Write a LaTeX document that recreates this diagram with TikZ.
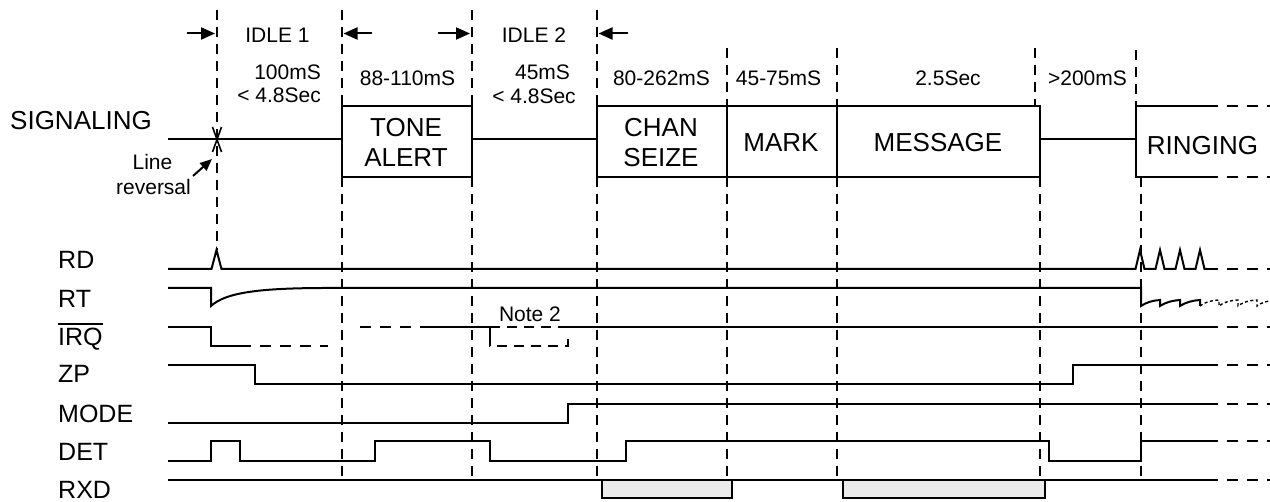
\documentclass[tikz,border=0pt]{standalone}
\usepackage{fontspec}
\setmainfont{Liberation Sans}
\usetikzlibrary{arrows.meta}
\definecolor{boxgray}{HTML}{EBEBEB}
\begin{document}
\begin{tikzpicture}[x=1pt,y=-1pt,
  wave/.style={line width=2pt, line join=miter},
  vgrid/.style={line width=2pt, dash pattern=on 10pt off 7pt},
  tailline/.style={line width=2pt, dash pattern=on 11pt off 9pt},
  bigtxt/.style={font=\fontsize{26}{29}\selectfont, inner sep=0pt, anchor=base},
  lbl/.style={font=\fontsize{25}{28}\selectfont, inner sep=0pt, anchor=base west},
  smalltxt/.style={font=\fontsize{21}{24}\selectfont, inner sep=0pt, anchor=base},
  harrow/.style={line width=2pt, -{Triangle[length=14pt,width=12pt]}},
  sbox/.style={line width=2pt, draw}
]
\useasboundingbox (0,0) rectangle (1270,502);

% ---- vertical dashed time markers ----
\draw[vgrid] (217,10) -- (217,250);
\draw[vgrid] (341.5,10) -- (341.5,106);  \draw[vgrid] (341.5,177) -- (341.5,478);
\draw[vgrid] (471.5,10) -- (471.5,106);  \draw[vgrid] (471.5,177) -- (471.5,478);
\draw[vgrid] (596.5,10) -- (596.5,106);  \draw[vgrid] (596.5,177) -- (596.5,478);
\draw[vgrid] (726.5,48) -- (726.5,106);  \draw[vgrid] (726.5,177) -- (726.5,478);
\draw[vgrid] (837,48) -- (837,106);      \draw[vgrid] (837,177) -- (837,478);
\draw[vgrid] (1035,48) -- (1035,106);    \draw[vgrid] (1040,177) -- (1040,478);
\draw[vgrid] (1136,50) -- (1136,106);    \draw[vgrid] (1141,177) -- (1141,478);

% ---- top interval arrows and labels ----
\draw[harrow] (187,33.5) -- (215,33.5);
\draw[harrow] (372,33.5) -- (343.5,33.5);
\draw[harrow] (438,33.5) -- (470,33.5);
\draw[harrow] (628,33.5) -- (598.5,33.5);
\node[smalltxt] (idle1) at (277.5,43) {IDLE 1};
\node[smalltxt] (idle2) at (534,43) {IDLE 2};

\node[smalltxt, anchor=base east] (t1a) at (321,80) {100mS};
\node[smalltxt, anchor=base east] (t1b) at (321,103) {< 4.8Sec};
\node[smalltxt] (t2) at (407.5,86) {88-110mS};
\node[smalltxt] (t3a) at (542.5,80) {45mS};
\node[smalltxt] (t3b) at (534,104) {< 4.8Sec};
\node[smalltxt] (t4) at (661.5,86) {80-262mS};
\node[smalltxt] (t5) at (778.5,86) {45-75mS};
\node[smalltxt] (t6) at (948,86) {2.5Sec};
\node[smalltxt] (t7) at (1087.5,86) {>200mS};

% ---- SIGNALING row ----
\node[bigtxt, anchor=base west] (sig) at (10,130) {SIGNALING};
\draw[wave] (168,139) -- (341.5,139);
\draw[sbox] (341.5,106) rectangle (471.5,177);
\draw[wave] (471.5,139) -- (596.5,139);
\draw[sbox] (596.5,106) rectangle (726.5,177);
\draw[sbox] (726.5,106) rectangle (837,177);
\draw[sbox] (837,106) rectangle (1040,177);
\draw[wave] (1040,139) -- (1136,139);
\draw[wave] (1207,106) -- (1136,106) -- (1136,177) -- (1207,177);
\draw[tailline] (1207,106) -- (1270,106);
\draw[tailline] (1207,177) -- (1270,177);

\node[bigtxt] (tone) at (406,137) {TONE};
\node[bigtxt] (alert) at (406,167) {ALERT};
\node[bigtxt] (chan) at (661,137) {CHAN};
\node[bigtxt] (seize) at (661,167) {SEIZE};
\node[bigtxt] (mark) at (781,152) {MARK};
\node[bigtxt] (msg) at (938,152) {MESSAGE};
\node[bigtxt] (ring) at (1202.5,155) {RINGING};

% line reversal mark
\draw[line width=1.6pt] (212.5,127) -- (221.5,152) (221.5,127) -- (212.5,152);
\node[smalltxt] (lr1) at (152.5,170) {Line};
\node[smalltxt] (lr2) at (153.5,195) {reversal};
\draw[line width=2pt, -{Triangle[length=12pt,width=10pt]}] (193,176) -- (212,159);

% ---- signal labels ----
\node[lbl] (rd) at (58,269) {RD};
\node[lbl] (rt) at (58,308) {RT};
\node[lbl] (irq) at (58,346) {IRQ};
\draw[line width=2pt] ([yshift=4pt]irq.north west) -- ([yshift=4pt]irq.north east);
\node[lbl] (zp) at (58,383) {ZP};
\node[lbl] (mode) at (58,423) {MODE};
\node[lbl] (det) at (58,461) {DET};
\node[lbl] (rxd) at (58,499) {RXD};

% ---- RD ----
\draw[wave] (168,269) -- (211.5,269) -- (216.5,250) -- (221.5,269) -- (1135.5,269)
  -- (1140,250) -- (1144.5,269) -- (1155.5,269) -- (1160,250) -- (1164.5,269)
  -- (1175.5,269) -- (1180,250) -- (1184.5,269) -- (1195.5,269) -- (1200,250)
  -- (1204.5,269) -- (1207,269);
\draw[tailline] (1207,269) -- (1270,269);

% ---- RT ----
\draw[wave] (168,288) -- (211,288) -- (211,306)
  .. controls (226,292) and (262,288.3) .. (322,288) -- (1141,288) -- (1141,306)
  .. controls (1147,302) and (1153,300.5) .. (1160,300) -- (1160,306)
  .. controls (1166,302) and (1173,300.5) .. (1180,300) -- (1180,306)
  .. controls (1186,302) and (1193,300.5) .. (1200,300) -- (1200,306);
\draw[line width=1.4pt, dash pattern=on 3pt off 2.5pt] (1200,306)
  .. controls (1205,302) and (1211,300.5) .. (1219,300) -- (1219,306)
  .. controls (1224,302) and (1230,300.5) .. (1238,300) -- (1238,306)
  .. controls (1243,302) and (1249,300.5) .. (1257,300) -- (1257,306)
  .. controls (1261,303) and (1265,301.5) .. (1270,301);

% ---- IRQ ----
\draw[wave] (168,327) -- (211,327) -- (211,346) -- (240,346);
\draw[tailline] (240,346) -- (328,346);
\draw[tailline] (360,327) -- (428,327);
\draw[wave] (428,327) -- (490,327) -- (490,336);
\draw[tailline, dash pattern=on 10pt off 7pt] (490,336) -- (490,346) -- (568,346) -- (568,334);
\draw[tailline, dash pattern=on 10pt off 7pt] (490,327) -- (568,327);
\node[smalltxt] (note2) at (530,322) {Note 2};
\draw[wave] (568,327) -- (1207,327);
\draw[tailline] (1207,327) -- (1270,327);

% ---- ZP ----
\draw[wave] (168,365) -- (255,365) -- (255,384) -- (1073,384) -- (1073,365) -- (1207,365);
\draw[tailline] (1207,365) -- (1270,365);

% ---- MODE ----
\draw[wave] (168,423) -- (568,423) -- (568,404) -- (1207,404);
\draw[tailline] (1207,404) -- (1270,404);

% ---- DET ----
\draw[wave] (168,461) -- (211,461) -- (211,441) -- (240,441) -- (240,461) -- (375,461)
  -- (375,441) -- (490,441) -- (490,461) -- (626,461) -- (626,441) -- (1049,441)
  -- (1049,461) -- (1141,461) -- (1141,441) -- (1207,441);
\draw[tailline] (1207,441) -- (1270,441);

% ---- RXD ----
\draw[wave] (168,480) -- (1207,480);
\draw[tailline] (1207,480) -- (1270,480);
\draw[line width=2pt, fill=boxgray] (601.5,480) rectangle (731.5,498.5);
\draw[line width=2pt, fill=boxgray] (842.5,480) rectangle (1045,498.5);
\end{tikzpicture}
\end{document}
